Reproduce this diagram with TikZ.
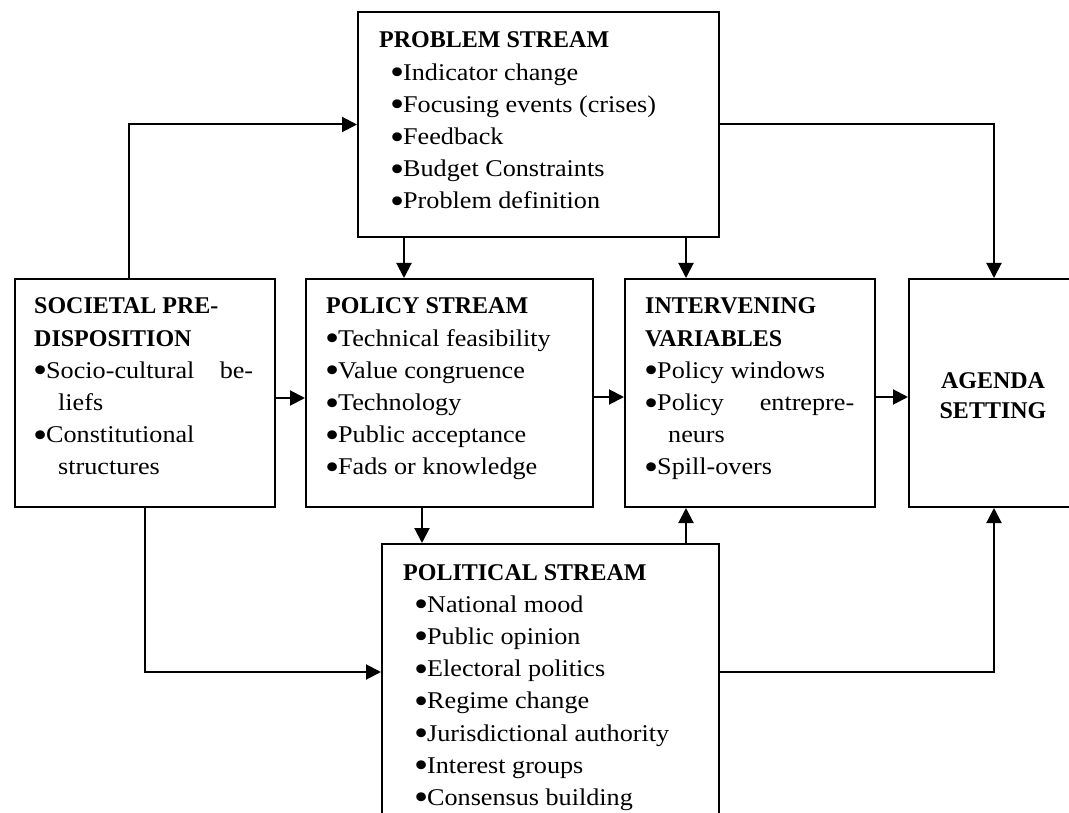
\documentclass[tikz,border=0pt]{standalone}
\usepackage{fontspec}
\setmainfont{Liberation Serif}[FakeStretch=1.09,BoldFeatures={FakeStretch=1.0}]
\usetikzlibrary{arrows.meta}
\newcommand\bl{\makebox[12pt][l]{\hspace*{-1pt}\smash{\raisebox{-4.5pt}{\fontsize{37}{37}\selectfont\textbullet}}}}
\begin{document}
\begin{tikzpicture}[x=1pt,y=-1pt,
  box/.style={draw, line width=2pt, rectangle, inner sep=0pt, anchor=north west},
  arr/.style={line width=2pt, -{Triangle[length=15pt,width=15pt]}},
  lbl/.style={anchor=base west, inner sep=0pt, font=\fontsize{24}{32.2}\selectfont}
]
\useasboundingbox (0,0) rectangle (1069,813);
% boxes
\node[box, minimum width=361pt, minimum height=225pt] (prob) at (357,11) {};
\node[box, minimum width=260pt, minimum height=228pt] (soc) at (14,278) {};
\node[box, minimum width=287pt, minimum height=228pt] (pol) at (305,278) {};
\node[box, minimum width=250pt, minimum height=228pt] (inter) at (624,278) {};
\node[box, minimum width=170pt, minimum height=228pt] (agenda) at (908,278) {};
\node[box, minimum width=337pt, minimum height=320pt] (politic) at (381,543) {};
% texts
\node[lbl] (probt) at (379,48) {\parbox[t]{330pt}{\bfseries PROBLEM STREAM\par\mdseries
\hspace*{12pt}\bl Indicator change\par
\hspace*{12pt}\bl Focusing events (crises)\par
\hspace*{12pt}\bl Feedback\par
\hspace*{12pt}\bl Budget Constraints\par
\hspace*{12pt}\bl Problem definition}};
\node[lbl] (soct) at (34,314) {\parbox[t]{230pt}{\bfseries SOCIETAL PRE-\par DISPOSITION\par\mdseries
\hbox to 219pt{\bl Socio-cultural\hfill be-}\par
\hspace*{24pt}liefs\par
\bl Constitutional\par
\hspace*{24pt}structures}};
\node[lbl] (polt) at (326,314) {\parbox[t]{260pt}{\bfseries POLICY STREAM\par\mdseries
\bl Technical feasibility\par
\bl Value congruence\par
\bl Technology\par
\bl Public acceptance\par
\bl Fads or knowledge}};
\node[lbl] (intert) at (645,314) {\parbox[t]{225pt}{\bfseries INTERVENING\par VARIABLES\par\mdseries
\bl Policy windows\par
\hbox to 209pt{\bl Policy\hfill entrepre-}\par
\hspace*{23pt}neurs\par
\bl Spill-overs}};
\node[anchor=base, inner sep=0pt, font=\fontsize{24}{31}\selectfont] (agendat) at (993,388) {\parbox[t]{150pt}{\centering\bfseries AGENDA\par SETTING}};
\node[lbl] (politict) at (403,580) {\parbox[t]{310pt}{\bfseries POLITICAL STREAM\par\mdseries
\hspace*{12pt}\bl National mood\par
\hspace*{12pt}\bl Public opinion\par
\hspace*{12pt}\bl Electoral politics\par
\hspace*{12pt}\bl Regime change\par
\hspace*{12pt}\bl Jurisdictional authority\par
\hspace*{12pt}\bl Interest groups\par
\hspace*{12pt}\bl Consensus building}};
% connectors
\draw[arr] ([xshift=-16pt]soc.north) |- (prob.west);
\draw[arr] (prob.east) -| (agenda.north);
\draw[arr] ([xshift=47pt]prob.south west) -- ([xshift=47pt]prob.south west |- pol.north);
\draw[arr] ([xshift=-34pt]prob.south east) -- ([xshift=-34pt]prob.south east |- inter.north);
\draw[arr] ([yshift=-5pt]soc.east) -- ([yshift=-5pt]soc.east -| pol.west);
\draw[arr] ([yshift=-4pt]pol.east) -- ([yshift=-4pt]pol.east -| inter.west);
\draw[arr] ([yshift=-4pt]inter.east) -- ([yshift=-4pt]inter.east -| agenda.west);
\draw[arr] ([xshift=117pt]pol.south west) -- ([xshift=117pt]pol.south west |- politic.north);
\draw[arr] (soc.south) |- ([yshift=-129pt]politic.north west);
\draw[arr] ([xshift=-34pt]politic.north east) -- ([xshift=-34pt]politic.north east |- inter.south);
\draw[arr] ([yshift=-129pt]politic.north east) -| (agenda.south);
\end{tikzpicture}
\end{document}
